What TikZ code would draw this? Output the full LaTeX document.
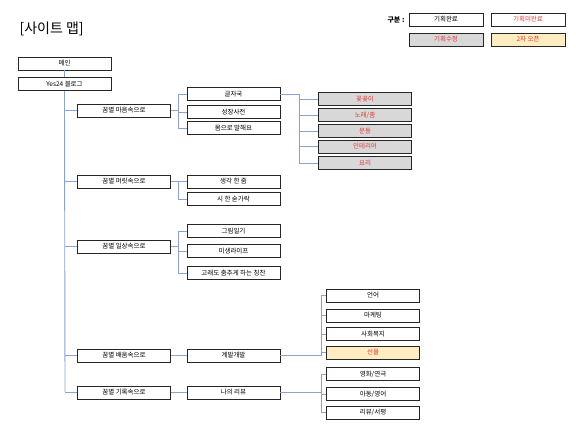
\documentclass[tikz,border=0pt]{standalone}
\usepackage{fontspec}
\setmainfont{Noto Sans CJK KR}
\usepackage{xcolor}
\usepackage{tikz}
\usetikzlibrary{calc, positioning}

\definecolor{linkblue}{RGB}{140,162,202}
\definecolor{planred}{RGB}{222,60,60}
\definecolor{editgray}{RGB}{216,216,216}
\definecolor{openorange}{RGB}{255,236,192}

\tikzset{
    menu/.style={draw=black!85, fill=white, line width=0.7pt, minimum width=93pt,
        minimum height=13pt, inner sep=0pt, font=\fontsize{6.5}{7}\selectfont},
    edited/.style={menu, fill=editgray, text=planred},
    reopen/.style={menu, fill=openorange, text=planred},
    link/.style={draw=linkblue, line width=0.9pt}
}

\begin{document}
\begin{tikzpicture}[x=1pt, y=-1pt]
    \useasboundingbox (0,0) rectangle (580,435);

    % title and legend
    \node[anchor=west, font=\fontsize{14}{16}\selectfont] (title) at (16,29) {[사이트 맵]};
    \node[font=\fontsize{7}{8}\selectfont\bfseries] (legend) at (396,19.5) {구분 :};
    \node[menu, minimum width=74pt] (done) at (446,19.5) {기획완료};
    \node[menu, minimum width=74pt, text=planred] (todo) at (528,19.5) {기획미완료};
    \node[edited, minimum width=74pt] (edit) at (446,39.5) {기획수정};
    \node[reopen, minimum width=74pt] (second) at (528,39.5) {2차 오픈};

    % root
    \node[menu] (main) at (64.5,63.5) {메인};
    \node[menu] (blog) at (64.5,84) {Yes24 블로그};
    \coordinate (trunk) at (65,392);
    \draw[link] (main.south) -- (blog.north);
    \draw[link] (blog.south) -- (trunk);

    % first level
    \node[menu] (heart) at (124,110.5) {꿈별 마음속으로};
    \node[menu] (head) at (124,181.5) {꿈별 머릿속으로};
    \node[menu] (daily) at (124,246.5) {꿈별 일상속으로};
    \node[menu] (learn) at (124,355.5) {꿈별 배움속으로};
    \node[menu] (record) at (124,392.5) {꿈별 기록속으로};
    \foreach \n in {heart,head,daily,learn,record}
        \draw[link] (trunk |- \n.west) -- (\n.west);

    % second level
    \node[menu] (letter) at (233.5,94) {글자국};
    \node[menu] (grow) at (233.5,112) {성장사전};
    \node[menu] (body) at (233.5,128) {몸으로 말해요};
    \node[menu] (think) at (233.5,181.5) {생각 한 줌};
    \node[menu] (poem) at (233.5,199) {시 한 숟가락};
    \node[menu] (diary) at (233.5,231) {그림일기};
    \node[menu] (life) at (233.5,251) {미생라이프};
    \node[menu] (whale) at (233.5,273) {고래도 춤추게 하는 칭찬};
    \node[menu] (self) at (233.5,355.5) {계발개발};
    \node[menu] (review) at (233.5,392.5) {나의 리뷰};

    \coordinate (j1) at (178,110.5);
    \coordinate (j2) at (178,181.5);
    \coordinate (j3) at (178,246.5);
    \draw[link] (heart.east) -- (j1);
    \draw[link] (head.east) -- (j2);
    \draw[link] (daily.east) -- (j3);
    \foreach \n in {letter,grow,body}
        \draw[link] (j1) |- (\n.west);
    \foreach \n in {think,poem}
        \draw[link] (j2) |- (\n.west);
    \foreach \n in {diary,life,whale}
        \draw[link] (j3) |- (\n.west);
    \draw[link] (learn.east) -- (self.west);
    \draw[link] (record.east) -- (review.west);

    % third level
    \node[edited] (flower) at (365,99) {꽃꽂이};
    \node[edited] (song) at (365,115) {노래/춤};
    \node[edited] (sport) at (365,131) {운동};
    \node[edited] (deco) at (365,146.5) {인테리어};
    \node[edited] (cook) at (365,163) {요리};
    \coordinate (j4) at (299,94);
    \draw[link] (letter.east) -- (j4);
    \foreach \n in {flower,song,sport,deco,cook}
        \draw[link] (j4) |- (\n.west);

    \node[menu] (lang) at (373,295.5) {언어};
    \node[menu] (market) at (373,315.5) {마케팅};
    \node[menu] (welfare) at (373,334) {사회복지};
    \node[reopen] (gift) at (373,352.5) {선물};
    \coordinate (j5) at (321,355.5);
    \draw[link] (self.east) -- (j5);
    \foreach \n in {lang,market,welfare,gift}
        \draw[link] (j5) |- (\n.west);

    \node[menu] (movie) at (373,374) {영화/연극};
    \node[menu] (child) at (373,394) {아동/영어};
    \node[menu] (book) at (373,412.5) {리뷰/서평};
    \coordinate (j6) at (321,392.5);
    \draw[link] (review.east) -- (j6);
    \foreach \n in {movie,child,book}
        \draw[link] (j6) |- (\n.west);
\end{tikzpicture}
\end{document}
